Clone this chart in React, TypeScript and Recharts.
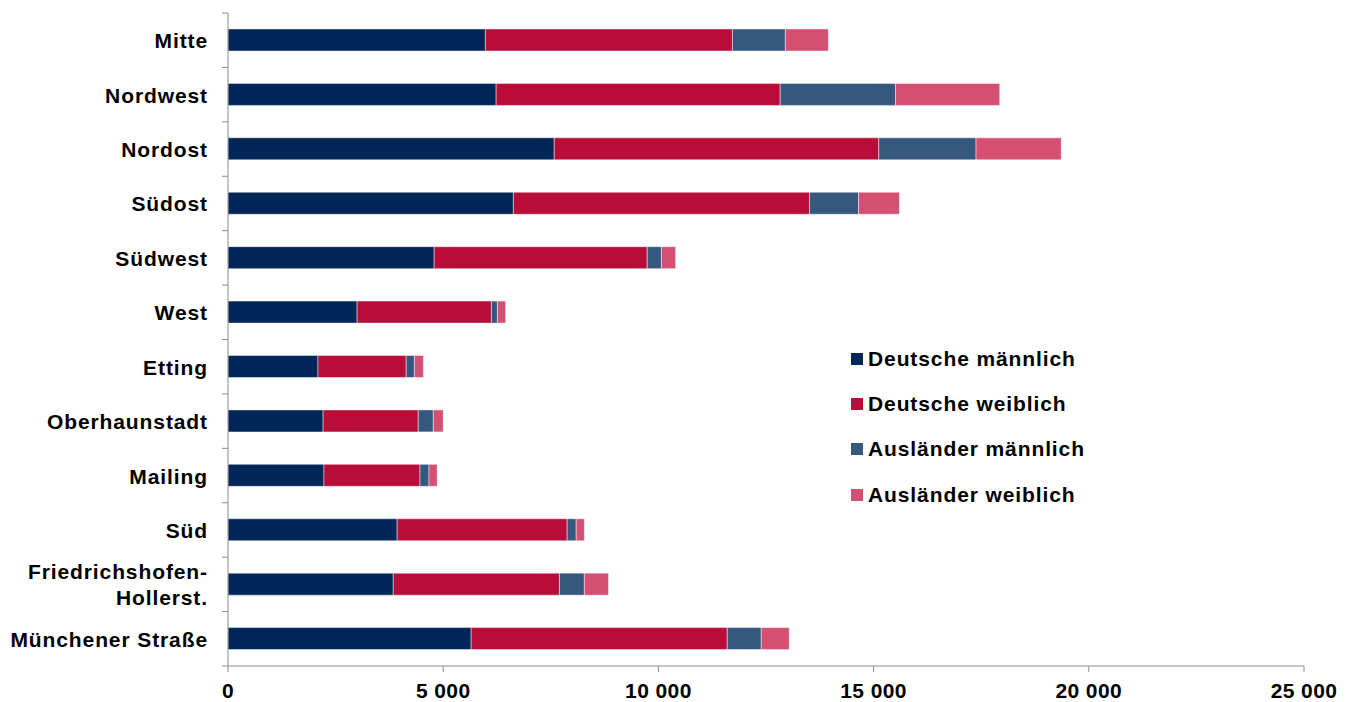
import React from 'react';
import { BarChart, Bar, XAxis, YAxis, Legend } from 'recharts';

// Stadtbezirke, von oben nach unten
const districts = [
    'Mitte',
    'Nordwest',
    'Nordost',
    'Südost',
    'Südwest',
    'West',
    'Etting',
    'Oberhaunstadt',
    'Mailing',
    'Süd',
    'Friedrichshofen-\nHollerst.',
    'Münchener Straße',
];

const deutscheMaennlich = [5980, 6230, 7580, 6630, 4790, 3000, 2090, 2210, 2230, 3930, 3840, 5650];
const deutscheWeiblich = [5740, 6600, 7540, 6880, 4950, 3120, 2050, 2210, 2230, 3950, 3860, 5950];
const auslaenderMaennlich = [1230, 2680, 2260, 1140, 330, 140, 190, 350, 210, 210, 580, 790];
const auslaenderWeiblich = [1000, 2420, 1980, 950, 330, 190, 210, 230, 190, 190, 560, 650];

const xTicks = [0, 5000, 10000, 15000, 20000, 25000];

const SERIES = [
    { key: 'dm', name: 'Deutsche männlich', color: '#002657' },
    { key: 'dw', name: 'Deutsche weiblich', color: '#B70D38' },
    { key: 'am', name: 'Ausländer männlich', color: '#36587F' },
    { key: 'aw', name: 'Ausländer weiblich', color: '#D45073' },
];

const data = districts.map((name, i) => ({
    name,
    dm: deutscheMaennlich[i],
    dw: deutscheWeiblich[i],
    am: auslaenderMaennlich[i],
    aw: auslaenderWeiblich[i],
}));

const FONT = 'Liberation Sans, Arial, sans-serif';
const AXIS_COLOR = '#8c8c8c';

const fmt = (v: number) => String(v).replace(/\B(?=(\d{3})+(?!\d))/g, ' ');

// category label + boundary tick marks (Excel style, between the bands)
function CategoryTick(props: any) {
    const { x, y, payload, index } = props;
    const half = payload && payload.offset ? payload.offset : 27;
    const lines = String(payload.value).split('\n');
    const lh = 26;
    const startY = y - ((lines.length - 1) * lh) / 2;
    return (
        <g>
            {index === 0 && (
                <line x1={x + 14} x2={x + 20} y1={y - half} y2={y - half} stroke={AXIS_COLOR} />
            )}
            <line x1={x + 14} x2={x + 20} y1={y + half} y2={y + half} stroke={AXIS_COLOR} />
            <text
                x={x}
                y={startY}
                textAnchor="end"
                dominantBaseline="central"
                fontFamily={FONT}
                fontWeight="bold"
                fontSize={21}
                letterSpacing={0.9}
                fill="#000"
            >
                {lines.map((l, i) => (
                    <tspan key={i} x={x} dy={i === 0 ? 0 : lh}>{l}</tspan>
                ))}
            </text>
        </g>
    );
}

function LegendBox() {
    return (
        <div style={{ fontFamily: FONT, fontWeight: 'bold', fontSize: 21, letterSpacing: 0.9 }}>
            {SERIES.map((s) => (
                <div key={s.key} style={{ display: 'flex', alignItems: 'center', height: 45.3 }}>
                    <span style={{ width: 12, height: 12, background: s.color, marginRight: 5, display: 'inline-block' }} />
                    <span>{s.name}</span>
                </div>
            ))}
        </div>
    );
}

export default function App() {
    return (
        <div style={{ position: 'fixed', left: 0, top: 0, width: 1355, height: 702, background: '#fff' }}>
            <BarChart
                width={1355}
                height={702}
                data={data}
                layout="vertical"
                barSize={22}
                margin={{ top: 13, right: 51, left: 0, bottom: 0 }}
            >
                <XAxis
                    type="number"
                    domain={[0, 25000]}
                    ticks={xTicks}
                    tickFormatter={fmt}
                    height={36}
                    stroke={AXIS_COLOR}
                    tickSize={6}
                    tickMargin={11}
                    tick={{ fill: '#000', fontFamily: FONT, fontWeight: 'bold', fontSize: 21, letterSpacing: 0.4 }}
                />
                <YAxis
                    type="category"
                    dataKey="name"
                    width={228}
                    stroke={AXIS_COLOR}
                    tickLine={false}
                    tickSize={0}
                    tickMargin={20}
                    interval={0}
                    tick={<CategoryTick />}
                />
                <Legend
                    layout="horizontal"
                    verticalAlign="middle"
                    align="center"
                    wrapperStyle={{ left: 851, top: 336, width: 300 }}
                    content={<LegendBox />}
                />
                {SERIES.map((s) => (
                    <Bar
                        key={s.key}
                        dataKey={s.key}
                        name={s.name}
                        stackId="a"
                        fill={s.color}
                        stroke="#ffffff"
                        strokeOpacity={0.45}
                        strokeWidth={1}
                        isAnimationActive={false}
                    />
                ))}
            </BarChart>
        </div>
    );
}
